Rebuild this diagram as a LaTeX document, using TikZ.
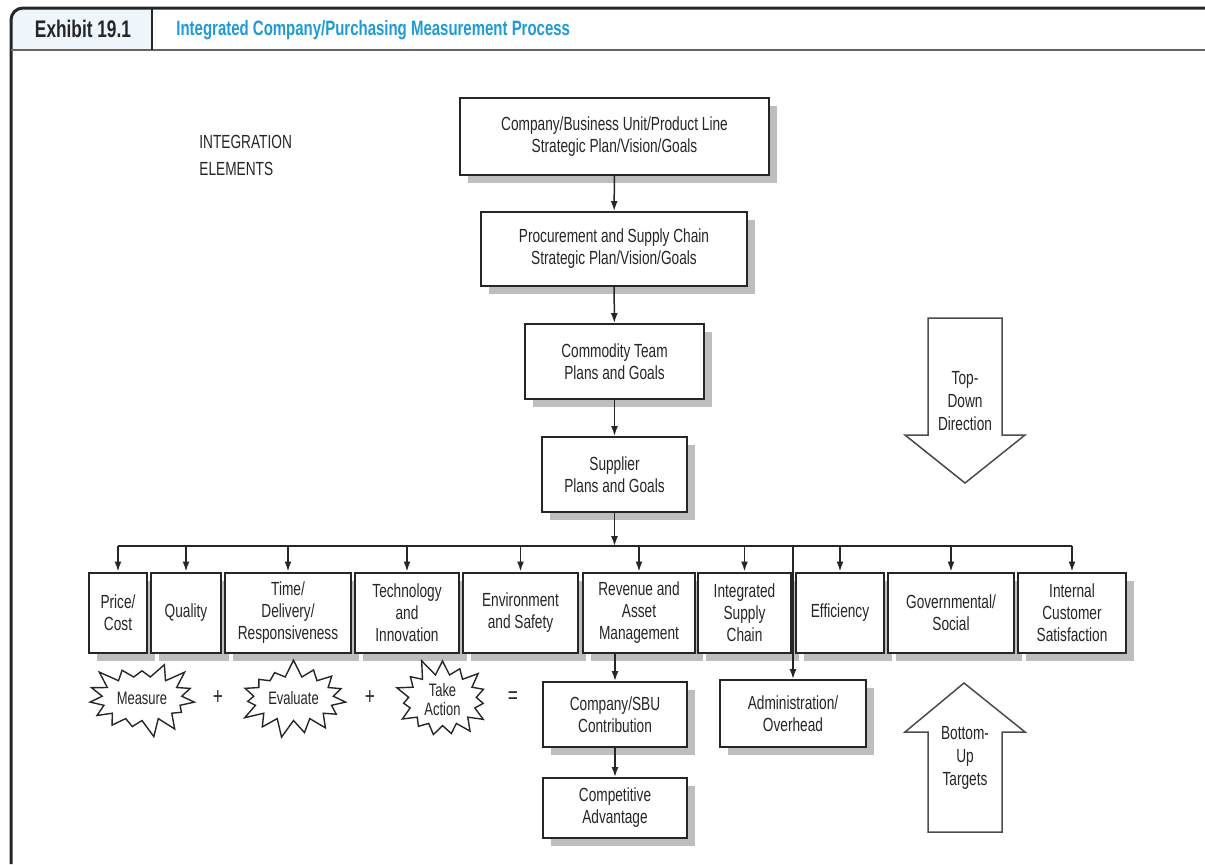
\documentclass[tikz,border=0pt]{standalone}
\usepackage{fontspec}
\setmainfont{Liberation Sans}[FakeStretch=0.72]
\usetikzlibrary{positioning,arrows.meta,shadows,shapes.symbols}
\definecolor{titleblue}{HTML}{1E9BD7}
\definecolor{cellblue}{HTML}{EEF6FB}
\definecolor{shadowgray}{HTML}{BEBEBE}
\tikzset{
mybox/.style 2 args={
  rectangle,
  draw=black!85,
  line width=1pt,
  fill=white,
  align=center,
  inner sep=0pt,
  text=black!85,
  minimum width=#1*0.5pt,
  minimum height=#2*0.5pt,
  font=\fontsize{9.5}{11}\selectfont,
  drop shadow={shadow xshift=4pt, shadow yshift=-4pt, fill=shadowgray, opacity=1}
  },
burst/.style={
  starburst,
  starburst points=15,
  starburst point height=9pt,
  random starburst=#1,
  draw=black!85,
  line width=0.7pt,
  fill=white,
  align=center,
  inner sep=1pt,
  text=black!85,
  font=\fontsize{9}{9.5}\selectfont
  },
link/.style={draw=black!85, line width=0.75pt, -{Latex[length=5pt,width=3.5pt]}},
bigarrow/.style={draw=black!70, line width=0.75pt, fill=white},
label/.style={align=center, text=black!85, font=\fontsize{9.5}{11.5}\selectfont}
}

\begin{document}
\begin{tikzpicture}[x=0.5pt,y=-0.5pt]
\useasboundingbox (0,0) rectangle (1205,864);

% frame and header
\fill[cellblue] (11,50) [rounded corners=6pt] -- (11,8) [sharp corners] -- (152,8) -- (152,50) -- cycle;
\draw[black!85, line width=1.5pt, rounded corners=6pt] (11,864) -- (11,8) -- (1205,8);
\draw[black!60, line width=1pt] (11,50) -- (1205,50);
\draw[black!85, line width=1pt] (152,8) -- (152,50);
\node[font=\fontsize{12}{14}\bfseries, text=black!85] (exhibit) at (83,29) {Exhibit 19.1};
\node[anchor=west, inner sep=0pt, font=\fontsize{10.4}{12}\bfseries, text=titleblue] (title) at (176,30)
  {Integrated Company/Purchasing Measurement Process};

\node[anchor=north west, inner sep=0pt, align=left, text=black!85, font=\fontsize{9.5}{13.5}\selectfont]
  (integration) at (199,135) {INTEGRATION\\ELEMENTS};

% plan chain
\node[mybox={309}{77}] (company) at (614.5,136.5) {Company/Business Unit/Product Line\\Strategic Plan/Vision/Goals};
\node[mybox={266}{74}] (procure) at (614,249) {Procurement and Supply Chain\\Strategic Plan/Vision/Goals};
\node[mybox={179}{75}] (commodity) at (614.5,361.5) {Commodity Team\\Plans and Goals};
\node[mybox={145}{75}] (supplier) at (614.5,474.5) {Supplier\\Plans and Goals};

\draw[link] (company) -- (procure);
\draw[link] (procure) -- (commodity);
\draw[link] (commodity) -- (supplier);

% integration elements
\node[mybox={58}{80}] (price) at (118,612.5) {Price/\\Cost};
\node[mybox={70}{80}] (quality) at (186,612.5) {Quality};
\node[mybox={126}{80}] (time) at (288,612.5) {Time/\\Delivery/\\Responsiveness};
\node[mybox={104}{80}] (tech) at (407,612.5) {Technology\\and\\Innovation};
\node[mybox={115}{80}] (environ) at (520.5,612.5) {Environment\\and Safety};
\node[mybox={112}{80}] (revenue) at (639,612.5) {Revenue and\\Asset\\Management};
\node[mybox={93}{80}] (isc) at (744.5,612.5) {Integrated\\Supply\\Chain};
\node[mybox={88}{80}] (efficiency) at (840,612.5) {Efficiency};
\node[mybox={126}{80}] (govern) at (951,612.5) {Governmental/\\Social};
\node[mybox={108}{80}] (internal) at (1072,612.5) {Internal\\Customer\\Satisfaction};

\coordinate (bus) at (614.5,546);
\draw[link] (supplier) -- (supplier.south |- bus);
\draw[black!85, line width=0.75pt] (price.north |- bus) -- (internal.north |- bus);
\foreach \n in {price,quality,time,tech,environ,revenue,isc,efficiency,govern,internal}
  \draw[link] (\n.north |- bus) -- (\n.north);

% results
\node[mybox={144}{65}] (contrib) at (615,714.5) {Company/SBU\\Contribution};
\node[mybox={144}{60}] (compadv) at (615,808) {Competitive\\Advantage};
\node[mybox={146}{67}] (admin) at (793,713.5) {Administration/\\Overhead};

\draw[link] (revenue.south -| contrib.north) -- (contrib.north);
\draw[link] (contrib) -- (compadv);
\draw[link] (admin.north |- bus) -- (admin.north);

% measure + evaluate + take action =
\node[burst=3, minimum width=58pt, minimum height=40pt] (measure) at (142,698.5) {Measure};
\node[text=black!85, font=\fontsize{12}{12}\selectfont] (plus1) at (218,698) {+};
\node[burst=7, minimum width=58pt, minimum height=40pt] (evaluate) at (293.5,698.5) {Evaluate};
\node[text=black!85, font=\fontsize{12}{12}\selectfont] (plus2) at (370,698) {+};
\node[burst=11, minimum width=52pt, minimum height=38pt] (action) at (442.5,700) {Take\\Action};
\node[text=black!85, font=\fontsize{12}{12}\selectfont] (equals) at (513,698) {=};

% direction arrows
\draw[bigarrow] (928,318) -- (1002,318) -- (1002,435) -- (1025,435) -- (965,483)
  -- (905,435) -- (928,435) -- cycle;
\node[label] (topdown) at (965,401) {Top-\\Down\\Direction};

\draw[bigarrow] (928,832) -- (1002,832) -- (1002,732) -- (1025,732) -- (964,683)
  -- (905,732) -- (928,732) -- cycle;
\node[label] (bottomup) at (965,758) {Bottom-\\Up\\Targets};

\end{tikzpicture}
\end{document}
